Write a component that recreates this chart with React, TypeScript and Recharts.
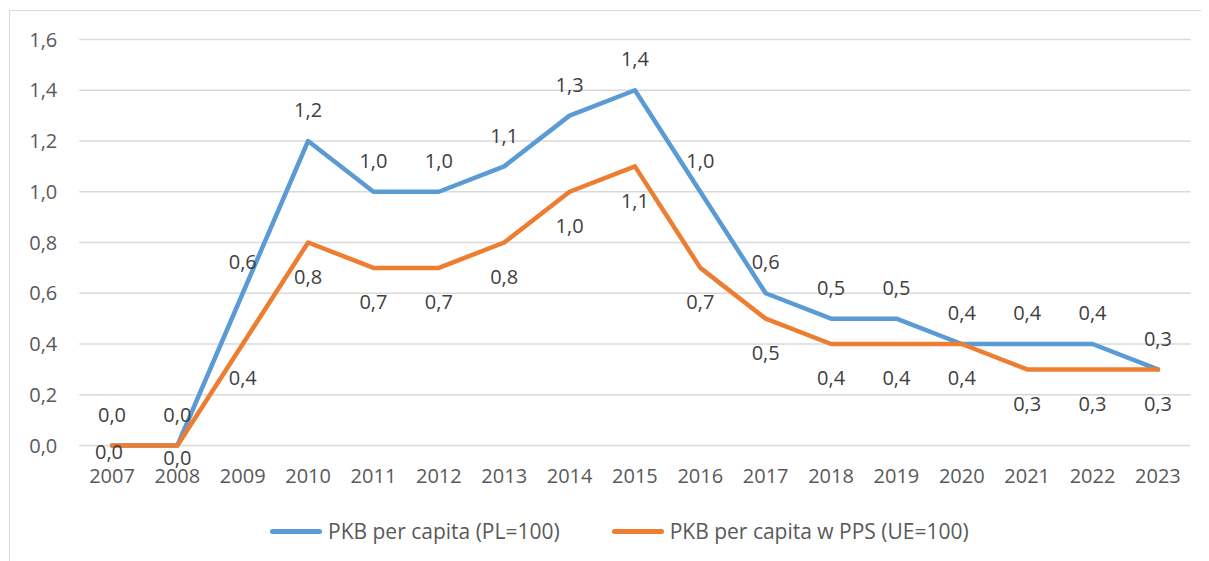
import React from 'react';
import { LineChart, Line, XAxis, YAxis, CartesianGrid, Legend, LabelList } from 'recharts';

const years = ['2007','2008','2009','2010','2011','2012','2013','2014','2015','2016','2017','2018','2019','2020','2021','2022','2023'];
const pkbPL = [0.0,0.0,0.6,1.2,1.0,1.0,1.1,1.3,1.4,1.0,0.6,0.5,0.5,0.4,0.4,0.4,0.3];
const pkbPPS = [0.0,0.0,0.4,0.8,0.7,0.7,0.8,1.0,1.1,0.7,0.5,0.4,0.4,0.4,0.3,0.3,0.3];
const yTicks = [0,0.2,0.4,0.6,0.8,1.0,1.2,1.4,1.6];

const seriesNames = ['PKB per capita (PL=100)', 'PKB per capita w PPS (UE=100)'];
const BLUE = '#5B9BD5';
const ORANGE = '#ED7D31';
const FONT = '"Open Sans", sans-serif';

const data = years.map((y, i) => ({ year: y, pl: pkbPL[i], pps: pkbPPS[i] }));

const fmt = (v: number) => v.toFixed(1).replace('.', ',');

const blueLabel = (props: any) => {
  const { x, y, value } = props;
  return (
    <text x={x} y={y - 31} dy="0.36em" textAnchor="middle" fill="#404040" fontSize={20} fontFamily={FONT}>
      {fmt(value)}
    </text>
  );
};

const orangeLabel = (props: any) => {
  const { x, y, value, index } = props;
  let dyOff = 34;
  let dx = 0;
  if (value === 0) {
    dyOff = index === 0 ? 6 : 12;
    dx = index === 0 ? -3 : 0;
  }
  return (
    <text x={x + dx} y={y + dyOff} dy="0.36em" textAnchor="middle" fill="#404040" fontSize={20} fontFamily={FONT}>
      {fmt(value)}
    </text>
  );
};

const LegendContent = () => (
  <div style={{ height: 60, position: 'relative', fontFamily: FONT, fontSize: 21, color: '#595959' }}>
    <div style={{ position: 'absolute', left: 262, top: 30, transform: 'translateY(-50%)', display: 'flex', alignItems: 'center' }}>
      <div style={{ width: 52, height: 5, borderRadius: 3, background: BLUE, marginRight: 6 }} />
      <span style={{ whiteSpace: 'nowrap' }}>{seriesNames[0]}</span>
      <div style={{ width: 52, height: 5, borderRadius: 3, background: ORANGE, marginLeft: 52, marginRight: 6 }} />
      <span style={{ whiteSpace: 'nowrap' }}>{seriesNames[1]}</span>
    </div>
  </div>
);

export default function App() {
  return (
    <div style={{ position: 'relative', width: 1201, height: 553, overflow: 'hidden', background: '#fff' }}>
      <div style={{ position: 'absolute', left: 1, top: 2, width: 1400, height: 800, borderLeft: '1.5px solid #d9d9d9', borderTop: '1.5px solid #d9d9d9' }} />
      <LineChart width={1201} height={553} data={data} margin={{ top: 31.5, right: 18.4, left: 0, bottom: 0 }}>
        <CartesianGrid vertical={false} stroke="#d9d9d9" strokeWidth={1.5} />
        <XAxis
          dataKey="year"
          axisLine={false}
          tickLine={false}
          tickSize={0}
          tickMargin={23}
          height={55.5}
          interval={0}
          padding={{ left: 32.7, right: 32.7 }}
          tick={{ fill: '#595959', fontSize: 20, fontFamily: FONT }}
        />
        <YAxis
          domain={[0, 1.6]}
          ticks={yTicks}
          axisLine={false}
          tickLine={false}
          tickSize={0}
          tickMargin={22}
          width={71.3}
          tickFormatter={fmt}
          tick={{ fill: '#595959', fontSize: 20, fontFamily: FONT }}
        />
        <Legend verticalAlign="bottom" content={<LegendContent />} wrapperStyle={{ left: 0, width: 1201 }} />
        <Line type="linear" dataKey="pl" name={seriesNames[0]} stroke={BLUE} strokeWidth={4.5} dot={false} strokeLinecap="round" strokeLinejoin="round" isAnimationActive={false}>
          <LabelList dataKey="pl" content={blueLabel} />
        </Line>
        <Line type="linear" dataKey="pps" name={seriesNames[1]} stroke={ORANGE} strokeWidth={4.5} dot={false} strokeLinecap="round" strokeLinejoin="round" isAnimationActive={false}>
          <LabelList dataKey="pps" content={orangeLabel} />
        </Line>
      </LineChart>
    </div>
  );
}
